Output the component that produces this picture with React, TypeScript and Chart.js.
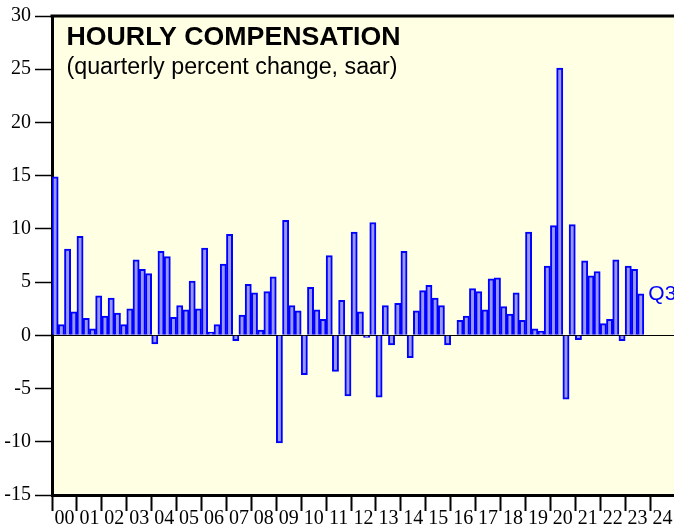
import React, { useEffect, useRef } from "react";
import { Chart, registerables } from "chart.js";

Chart.register(...registerables);

// ---- data ----
const FIRST_YEAR = 2000;
const YEAR_LABELS = [
  "00", "01", "02", "03", "04", "05", "06", "07", "08", "09", "10", "11", "12",
  "13", "14", "15", "16", "17", "18", "19", "20", "21", "22", "23", "24",
];
// Hourly compensation, quarterly % change saar, 2000Q1 .. 2023Q3
const HOURLY_COMP = [
  14.9, 1.0, 8.1, 2.2, // 2000
  9.3, 1.6, 0.6, 3.7, // 2001
  1.8, 3.5, 2.1, 1.0, // 2002
  2.5, 7.1, 6.2, 5.8, // 2003
  -0.8, 7.9, 7.4, 1.7, // 2004
  2.8, 2.4, 5.1, 2.5, // 2005
  8.2, 0.3, 1.0, 6.7, // 2006
  9.5, -0.5, 1.9, 4.8, // 2007
  4.0, 0.5, 4.1, 5.5, // 2008
  -10.1, 10.8, 2.8, 2.3, // 2009
  -3.7, 4.5, 2.4, 1.5, // 2010
  7.5, -3.4, 3.3, -5.7, // 2011
  9.7, 2.2, -0.2, 10.6, // 2012
  -5.8, 2.8, -0.9, 3.0, // 2013
  7.9, -2.1, 2.3, 4.2, // 2014
  4.7, 3.5, 2.8, -0.9, // 2015
  0.0, 1.4, 1.8, 4.4, // 2016
  4.1, 2.4, 5.3, 5.4, // 2017
  2.7, 2.0, 4.0, 1.4, // 2018
  9.7, 0.6, 0.4, 6.5, // 2019
  10.3, 25.1, -6.0, 10.4, // 2020
  -0.4, 7.0, 5.6, 6.0, // 2021
  1.1, 1.5, 7.1, -0.5, // 2022
  6.5, 6.2, 3.9, // 2023
];
const QUARTERS = HOURLY_COMP.map(
  (_, i) => `${FIRST_YEAR + Math.floor(i / 4)}Q${(i % 4) + 1}`
);
const Y_MIN = -15;
const Y_MAX = 30;
const Y_STEP = 5;
const TITLE = "HOURLY COMPENSATION";
const SUBTITLE = "(quarterly percent change, saar)";
const LAST_LABEL = "Q3";

const SANS = "'Liberation Sans', Arial, Helvetica, sans-serif";
const SERIF = "'Liberation Serif', 'Times New Roman', Times, serif";

function quarterToX(label: string): number {
  const yr = parseInt(label.slice(0, 4), 10);
  const q = parseInt(label.slice(5), 10);
  return yr + (q - 0.5) / 4;
}

function drawScaled(ctx: CanvasRenderingContext2D, text: string, x: number, y: number, targetW: number) {
  const w = ctx.measureText(text).width;
  ctx.save();
  ctx.translate(x, y);
  ctx.scale(targetW / w, 1);
  ctx.fillText(text, 0, 0);
  ctx.restore();
}

const framePlugin = {
  id: "frame",
  beforeDraw(chart: any) {
    const { ctx, chartArea: a, width, height } = chart;
    ctx.save();
    ctx.fillStyle = "#ffffff";
    ctx.fillRect(0, 0, width, height);
    ctx.fillStyle = "#ffffe3";
    ctx.fillRect(a.left, a.top, a.right - a.left, a.bottom - a.top);
    ctx.restore();
  },
  afterDraw(chart: any) {
    const { ctx, chartArea: a } = chart;
    ctx.save();
    // top frame line
    ctx.strokeStyle = "#000";
    ctx.lineWidth = 3;
    ctx.beginPath();
    ctx.moveTo(a.left - 1.5, a.top);
    ctx.lineTo(a.right, a.top);
    ctx.stroke();

    // titles
    ctx.fillStyle = "#000";
    ctx.textBaseline = "alphabetic";
    ctx.textAlign = "left";
    ctx.font = `bold 26px ${SANS}`;
    drawScaled(ctx, TITLE, a.left + 14.5, a.top + 29, 334);
    ctx.font = `23px ${SANS}`;
    drawScaled(ctx, SUBTITLE, a.left + 14.5, a.top + 58, 331);

    // last-point label
    const meta = chart.getDatasetMeta(0);
    const last = meta.data[meta.data.length - 1];
    if (last) {
      ctx.fillStyle = "#0000ff";
      ctx.font = `21px ${SANS}`;
      ctx.textBaseline = "middle";
      ctx.fillText(LAST_LABEL, last.x + last.width / 2 + 4.5, last.y + 0.5);
    }
    ctx.restore();
  },
};

export default function App() {
  const ref = useRef<HTMLCanvasElement | null>(null);

  useEffect(() => {
    if (!ref.current) return;
    const points = HOURLY_COMP.map((v, i) => ({ x: quarterToX(QUARTERS[i]), y: v }));
    const chart = new Chart(ref.current, {
      type: "bar",
      data: {
        datasets: [
          {
            data: points as any,
            backgroundColor: "#9898ff",
            borderColor: "#0000ff",
            borderWidth: 2,
            barPercentage: 1,
            categoryPercentage: 1,
            borderSkipped: "start",
          },
        ],
      },
      options: {
        animation: false,
        responsive: true,
        maintainAspectRatio: false,
        layout: { padding: { top: 15, left: 0, right: 0, bottom: 0 } },
        plugins: { legend: { display: false }, tooltip: { enabled: false }, title: { display: false } },
        scales: {
          x: {
            type: "linear",
            min: FIRST_YEAR,
            max: FIRST_YEAR + 24.96,
            offset: false,
            grid: {
              offset: false,
              drawOnChartArea: false,
              drawTicks: true,
              tickLength: 16,
              tickWidth: 2,
              tickColor: (c: any) =>
                c.tick && Number.isInteger(c.tick.value) ? "#000" : "rgba(0,0,0,0)",
            },
            border: { display: true, color: "#000", width: 3 },
            afterBuildTicks: (axis: any) => {
              const t: any[] = [];
              for (let i = 0; i < YEAR_LABELS.length; i++) {
                t.push({ value: FIRST_YEAR + i });
                t.push({ value: FIRST_YEAR + i + 0.5 });
              }
              axis.ticks = t;
            },
            afterFit: (axis: any) => {
              axis.height = 32;
            },
            ticks: {
              autoSkip: false,
              maxRotation: 0,
              minRotation: 0,
              padding: -4,
              color: "#000",
              font: { family: SERIF, size: 20 },
              callback: (v: any) => {
                const n = Number(v);
                if (Number.isInteger(n)) return "";
                return YEAR_LABELS[Math.round(n - 0.5 - FIRST_YEAR)] ?? "";
              },
            },
          },
          y: {
            min: Y_MIN,
            max: Y_MAX,
            grid: {
              color: (c: any) => (c.tick && c.tick.value === 0 ? "#000" : "rgba(0,0,0,0)"),
              lineWidth: 1,
              tickColor: "#000",
              tickLength: 17,
              tickWidth: 1.5,
            },
            border: { display: true, color: "#000", width: 3 },
            afterFit: (axis: any) => {
              axis.width = 52;
            },
            ticks: {
              stepSize: Y_STEP,
              padding: 4,
              color: "#000",
              font: { family: SERIF, size: 20 },
              callback: (v: any) => String(v),
            },
          },
        },
      },
      plugins: [framePlugin],
    });
    return () => chart.destroy();
  }, []);

  return (
    <div style={{ position: "fixed", left: 0, top: 0, width: 674, height: 527 }}>
      <canvas ref={ref} />
    </div>
  );
}
